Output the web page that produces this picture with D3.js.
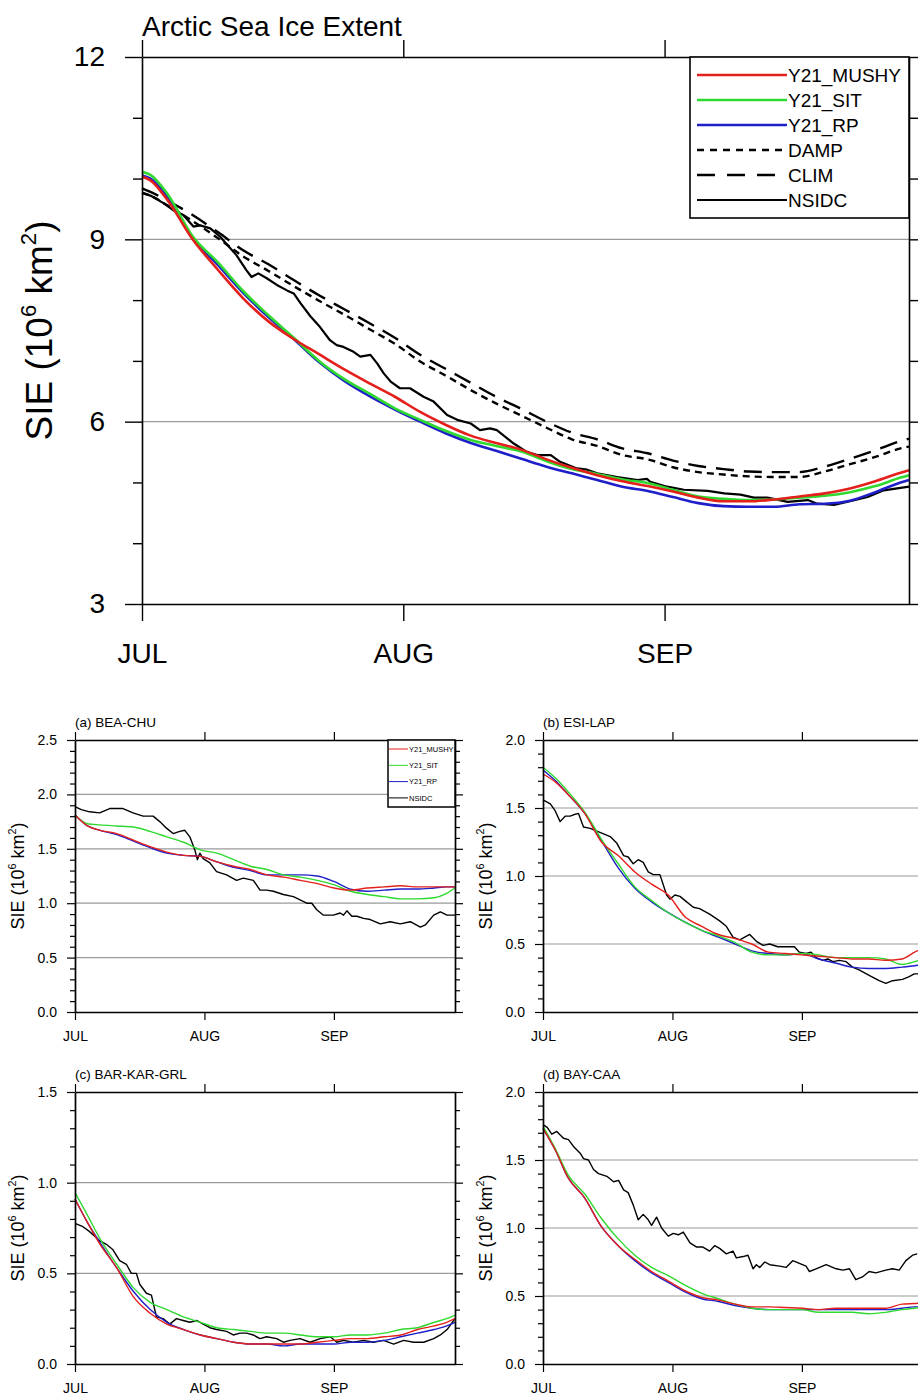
<!DOCTYPE html>
<html>
<head>
<meta charset="utf-8">
<script src="https://cdn.jsdelivr.net/npm/d3@7"></script>
<style>
  body { margin: 0; background: #fff; }
  svg { display: block; font-family: "Liberation Sans", Arial, Helvetica, sans-serif; }
</style>
</head>
<body>
<svg id="chart" width="918" height="1400"></svg>
<script>
// month ticks (day of season, Jul 1 = 0)
const months = ["JUL", "AUG", "SEP"];
const monthDays = [0, 31, 62];

// main panel: Arctic total
const mainDays = [0,1,3,6,9,12,15,18,21,24,27,30,33,36,39,42,45,48,51,54,57,60,63,66,69,72,75,78,81,84,87,90,91];
const mainMushy = [10.03,9.97,9.65,9.0,8.50,8.03,7.65,7.36,7.11,6.86,6.63,6.41,6.16,5.95,5.77,5.65,5.54,5.38,5.24,5.12,5.02,4.94,4.85,4.75,4.69,4.69,4.72,4.77,4.82,4.90,5.02,5.16,5.20];
const mainSit = [10.11,10.06,9.75,9.05,8.62,8.15,7.75,7.38,7.00,6.70,6.46,6.22,6.03,5.85,5.70,5.60,5.51,5.35,5.22,5.14,5.05,4.99,4.88,4.77,4.73,4.71,4.72,4.75,4.78,4.84,4.94,5.08,5.12];
const mainRp = [10.05,10.0,9.70,9.02,8.58,8.12,7.72,7.36,6.98,6.67,6.42,6.20,6.00,5.81,5.65,5.52,5.39,5.26,5.15,5.04,4.93,4.86,4.76,4.66,4.61,4.60,4.60,4.64,4.65,4.70,4.84,5.00,5.04];
const mainDamp = [9.77,9.72,9.56,9.30,9.02,8.72,8.48,8.23,7.99,7.76,7.52,7.28,6.99,6.76,6.52,6.30,6.10,5.90,5.71,5.60,5.45,5.38,5.25,5.17,5.13,5.10,5.09,5.09,5.18,5.30,5.42,5.56,5.59];
const mainClim = [9.84,9.78,9.64,9.40,9.12,8.82,8.59,8.33,8.08,7.85,7.62,7.38,7.10,6.87,6.64,6.41,6.21,6.00,5.82,5.71,5.56,5.48,5.36,5.27,5.22,5.18,5.17,5.17,5.26,5.39,5.53,5.68,5.72];
const mainObsDays = [0,1,2.5,3.7,4.9,6.1,6.9,8.1,9.3,10.5,11.2,12.4,13,13.8,14.8,16,17.2,18,18.8,20,21.1,22.3,23.1,23.9,25.1,25.9,27.1,27.9,28.7,29.5,30.6,31.8,33.4,34.6,36.2,37.4,39,40.1,41.3,42.1,44.1,45.7,46.9,48.5,49.6,51.6,52.8,54,56.4,58.8,59.9,60.3,62.3,64.3,67.1,69.1,71,72.6,74.2,76.6,79,80.1,82.1,84.5,86.1,88,90,91];
const mainObs = [9.76,9.72,9.6,9.48,9.40,9.21,9.23,9.18,9.04,8.85,8.74,8.49,8.38,8.44,8.36,8.25,8.16,8.11,7.95,7.73,7.56,7.34,7.26,7.23,7.15,7.07,7.10,6.96,6.79,6.66,6.55,6.55,6.41,6.33,6.11,6.03,5.97,5.86,5.89,5.86,5.64,5.50,5.45,5.45,5.34,5.23,5.21,5.15,5.09,5.04,5.06,5.01,4.93,4.88,4.86,4.82,4.80,4.75,4.75,4.68,4.71,4.65,4.63,4.71,4.76,4.87,4.91,4.93];

// regional panels share one day grid for the model runs
const panelDays = [0,3,6,10,14,18,22,26,30,34,38,42,46,50,54,58,62,66,70,74,78,82,86,89,91];

// (a) BEA-CHU
const beaMushy = [1.81,1.71,1.67,1.64,1.58,1.52,1.47,1.44,1.43,1.38,1.34,1.31,1.26,1.24,1.21,1.18,1.14,1.12,1.14,1.15,1.16,1.15,1.15,1.15,1.15];
const beaSit = [1.81,1.73,1.72,1.71,1.70,1.66,1.61,1.56,1.49,1.46,1.40,1.34,1.31,1.26,1.24,1.21,1.17,1.11,1.08,1.06,1.04,1.04,1.05,1.09,1.14];
const beaRp = [1.81,1.71,1.67,1.63,1.57,1.51,1.46,1.44,1.43,1.38,1.33,1.30,1.26,1.26,1.26,1.25,1.20,1.13,1.11,1.12,1.13,1.13,1.14,1.15,1.15];
const beaObsDays = [0,1.5,3.5,5.9,8.3,11.5,13.9,16.3,18.7,20.3,21.9,23.5,25.1,26.3,27.5,28.7,29.3,29.9,30.7,32.3,33.9,36.3,38.7,40.3,42.7,44.3,45.9,47.5,49.9,52.3,53.9,55.5,56.7,57.9,59.5,61.9,63.5,64.3,65.1,66.3,67.5,69.1,70.7,73.1,75.5,77.9,80.3,82.7,83.9,85.9,87.5,89.1,91];
const beaObs = [1.887,1.86,1.84,1.83,1.87,1.87,1.83,1.80,1.80,1.75,1.69,1.64,1.66,1.67,1.61,1.49,1.40,1.46,1.41,1.37,1.29,1.26,1.21,1.23,1.21,1.12,1.12,1.11,1.08,1.06,1.03,1.00,1.00,0.94,0.89,0.89,0.91,0.89,0.93,0.88,0.88,0.86,0.85,0.81,0.83,0.81,0.83,0.78,0.80,0.89,0.92,0.89,0.89];

// (b) ESI-LAP
const esiMushy = [1.75,1.69,1.60,1.46,1.25,1.15,1.03,0.94,0.86,0.70,0.63,0.57,0.54,0.50,0.44,0.43,0.42,0.41,0.40,0.39,0.39,0.38,0.39,0.44,0.47];
const esiSit = [1.80,1.72,1.62,1.47,1.27,1.09,0.92,0.82,0.73,0.66,0.60,0.56,0.51,0.44,0.42,0.42,0.43,0.42,0.40,0.40,0.40,0.39,0.35,0.37,0.39];
const esiRp = [1.78,1.70,1.60,1.46,1.26,1.06,0.91,0.81,0.73,0.66,0.60,0.55,0.50,0.45,0.43,0.42,0.43,0.39,0.36,0.33,0.32,0.32,0.33,0.34,0.35];
const esiObsDays = [0,1.75,2.9,4.1,5.3,6.5,7.3,8.5,9.7,11.3,12.9,14.5,16.1,17.7,19.3,20.4,21.6,22.8,24.0,25.2,26.4,28.0,29.6,30.4,31.6,32.8,34.4,36.0,37.5,39.9,42.3,43.9,45.5,47.1,49.5,51.1,52.7,54.3,56.2,58.2,60.2,61.4,63.0,64.2,65.4,67.0,68.2,69.4,71.0,72.6,74.1,75.7,78.1,80.5,82.1,83.7,86.1,87.7,88.9,91];
const esiObs = [1.56,1.53,1.48,1.40,1.44,1.44,1.45,1.46,1.36,1.35,1.33,1.31,1.29,1.24,1.15,1.14,1.09,1.12,1.10,1.03,1.01,1.01,0.86,0.83,0.86,0.85,0.81,0.77,0.76,0.72,0.67,0.63,0.55,0.53,0.57,0.52,0.49,0.50,0.48,0.48,0.48,0.44,0.43,0.44,0.40,0.38,0.39,0.37,0.38,0.37,0.33,0.31,0.27,0.23,0.21,0.23,0.24,0.26,0.28,0.28];

// (c) BAR-KAR-GRL
const barMushy = [0.91,0.78,0.66,0.53,0.37,0.28,0.22,0.19,0.16,0.14,0.12,0.11,0.11,0.11,0.11,0.12,0.13,0.14,0.14,0.15,0.16,0.19,0.21,0.23,0.25];
const barSit = [0.945,0.82,0.69,0.55,0.42,0.34,0.30,0.26,0.23,0.20,0.19,0.18,0.17,0.17,0.16,0.15,0.15,0.16,0.16,0.17,0.19,0.20,0.23,0.25,0.27];
const barRp = [0.91,0.78,0.67,0.53,0.40,0.30,0.23,0.19,0.16,0.14,0.12,0.11,0.11,0.10,0.11,0.11,0.11,0.12,0.12,0.13,0.15,0.17,0.19,0.21,0.23];
const barObsDays = [0,1.9,3.5,5.9,7.5,9.1,10.7,12.3,13.5,14.7,15.5,17.1,18.3,19.5,21.1,22.7,24.3,25.9,27.5,29.1,30.7,32.3,33.9,36.3,37.9,39.5,41.1,42.7,44.3,45.9,48.3,49.9,51.5,53.9,56.3,58.7,61.1,62.7,64.3,66.7,69.1,71.5,73.9,76.3,78.7,81.1,83.5,85.9,87.5,89.1,91];
const barObs = [0.776,0.757,0.73,0.68,0.66,0.63,0.57,0.55,0.50,0.50,0.44,0.39,0.38,0.26,0.25,0.22,0.25,0.24,0.23,0.24,0.22,0.20,0.19,0.18,0.16,0.17,0.17,0.16,0.14,0.15,0.14,0.12,0.13,0.14,0.12,0.14,0.15,0.12,0.13,0.12,0.13,0.12,0.13,0.11,0.13,0.12,0.12,0.14,0.16,0.19,0.25];

// (d) BAY-CAA
const bayMushy = [1.73,1.57,1.37,1.22,1.01,0.87,0.77,0.68,0.61,0.54,0.49,0.47,0.44,0.42,0.42,0.415,0.41,0.40,0.41,0.41,0.41,0.41,0.44,0.445,0.45];
const baySit = [1.75,1.58,1.39,1.25,1.07,0.92,0.80,0.71,0.65,0.58,0.52,0.48,0.44,0.41,0.40,0.40,0.40,0.38,0.38,0.38,0.37,0.38,0.40,0.41,0.42];
const bayRp = [1.73,1.57,1.37,1.22,1.01,0.87,0.76,0.67,0.60,0.53,0.48,0.46,0.43,0.41,0.40,0.40,0.40,0.40,0.40,0.40,0.40,0.40,0.41,0.42,0.42];
const bayObsDays = [0,1.0,2.1,3.3,4.9,6.1,7.3,8.9,9.7,10.9,12.1,13.3,15.3,16.9,18.1,19.3,20.4,21.6,22.8,24.0,25.2,26.0,27.2,28.4,30.0,31.2,32.4,33.6,35.2,36.8,38.3,39.9,41.1,42.3,43.9,45.5,46.3,47.9,49.1,50.3,51.1,51.9,53.1,54.3,56.7,58.2,59.8,61.4,63.0,63.8,65.4,67.8,70.2,71.8,73.4,74.9,76.5,78.1,79.7,82.1,83.7,85.3,86.9,88.5,89.6];
const bayObs = [1.76,1.74,1.69,1.71,1.66,1.65,1.60,1.55,1.51,1.50,1.43,1.40,1.38,1.34,1.35,1.28,1.26,1.17,1.06,1.10,1.06,1.02,1.08,1.00,0.94,0.96,0.95,0.97,0.89,0.86,0.86,0.83,0.87,0.85,0.81,0.83,0.78,0.79,0.80,0.70,0.73,0.71,0.75,0.73,0.72,0.71,0.76,0.74,0.72,0.68,0.70,0.73,0.70,0.69,0.70,0.62,0.64,0.68,0.67,0.69,0.70,0.69,0.76,0.80,0.81];

const RED = "#e3201c", GREEN = "#2fd92f", BLUE = "#1f1fc9";

const svg = d3.select("#chart");
svg.append("rect").attr("width", 918).attr("height", 1400).attr("fill", "#fff");

// rotated y label with superscripts
function yLabel(x, y, size) {
    let t = svg.append("text")
        .attr("transform", "translate(" + x + "," + y + ") rotate(-90)")
        .attr("text-anchor", "middle")
        .attr("font-size", size + "px");
    t.append("tspan").text("SIE (10");
    t.append("tspan").attr("font-size", (size * 0.6) + "px").attr("dy", -size * 0.42).text("6");
    t.append("tspan").attr("dy", size * 0.42).text(" km");
    t.append("tspan").attr("font-size", (size * 0.6) + "px").attr("dy", -size * 0.42).text("2");
    t.append("tspan").attr("dy", size * 0.42).text(")");
}

function drawPlot(o) {
    let g = svg.append("g");
    let xScale = d3.scaleLinear().domain([0, 91]).range([o.left, o.left + o.width]);
    let yScale = d3.scaleLinear().domain([o.yMin, o.yMax]).range([o.top + o.height, o.top]);

    // grid lines
    g.selectAll("line.grid")
        .data(o.grid)
        .enter()
        .append("line")
        .attr("class", "grid")
        .attr("x1", o.left).attr("x2", o.left + o.width)
        .attr("y1", d => yScale(d)).attr("y2", d => yScale(d))
        .attr("stroke", "#9a9a9a")
        .attr("stroke-width", o.gridWidth);

    // series
    o.series.forEach(s => {
        let line = d3.line()
            .x(d => xScale(d[0]))
            .y(d => yScale(d[1]))
            .curve(s.smooth ? d3.curveMonotoneX : d3.curveLinear);
        g.append("path")
            .datum(d3.zip(s.days, s.vals))
            .attr("d", line)
            .attr("fill", "none")
            .attr("stroke", s.color)
            .attr("stroke-width", s.width)
            .attr("stroke-dasharray", s.dash || null)
            .attr("stroke-linejoin", "round");
    });

    let majorY = d3.range(o.yMin, o.yMax + o.yStep / 2, o.yStep);
    let minorY = o.minorY;

    let styleAxis = sel => {
        sel.selectAll("path.domain").attr("stroke", "#000").attr("stroke-width", o.axisWidth);
        sel.selectAll(".tick line").attr("stroke", "#000").attr("stroke-width", o.tickWidth);
        sel.selectAll(".tick text").attr("fill", "#000");
        sel.attr("font-family", null).attr("font-size", o.tickFont + "px");
    };

    // left axis
    g.append("g")
        .attr("transform", "translate(" + o.left + ",0)")
        .call(d3.axisLeft(yScale).tickValues(minorY).tickSize(o.minorLen).tickFormat(""))
        .call(a => a.select(".domain").remove())
        .call(styleAxis);
    g.append("g")
        .attr("transform", "translate(" + o.left + ",0)")
        .call(d3.axisLeft(yScale).tickValues(majorY).tickSize(o.majorLen).tickSizeOuter(0)
            .tickPadding(o.yPad).tickFormat(d3.format(o.fmt)))
        .call(styleAxis);

    // right axis
    g.append("g")
        .attr("transform", "translate(" + (o.left + o.width) + ",0)")
        .call(d3.axisRight(yScale).tickValues(minorY).tickSize(o.minorLen).tickFormat(""))
        .call(a => a.select(".domain").remove())
        .call(styleAxis);
    g.append("g")
        .attr("transform", "translate(" + (o.left + o.width) + ",0)")
        .call(d3.axisRight(yScale).tickValues(majorY).tickSize(o.majorLen).tickSizeOuter(0).tickFormat(""))
        .call(styleAxis);

    // bottom axis
    g.append("g")
        .attr("transform", "translate(0," + (o.top + o.height) + ")")
        .call(d3.axisBottom(xScale).tickValues(monthDays).tickSize(o.majorLen).tickSizeOuter(0)
            .tickPadding(o.xPad).tickFormat((d, i) => months[i]))
        .call(styleAxis);

    // top axis
    g.append("g")
        .attr("transform", "translate(0," + o.top + ")")
        .call(d3.axisTop(xScale).tickValues(monthDays).tickSize(o.majorLen).tickSizeOuter(0).tickFormat(""))
        .call(styleAxis);

    // title
    svg.append("text")
        .attr("x", o.left)
        .attr("y", o.titleY)
        .attr("font-size", o.titleFont + "px")
        .text(o.title);

    yLabel(o.labelX, o.top + o.height / 2, o.labelFont);

    // legend
    if (o.legend) {
        let L = o.legend;
        let lg = svg.append("g");
        lg.append("rect")
            .attr("x", L.x).attr("y", L.y)
            .attr("width", L.w).attr("height", L.h)
            .attr("fill", "#fff")
            .attr("stroke", "#000")
            .attr("stroke-width", L.border);
        L.items.forEach((it, i) => {
            let yy = L.y + L.first + i * L.step;
            lg.append("line")
                .attr("x1", L.x + L.lineStart).attr("x2", L.x + L.lineEnd)
                .attr("y1", yy).attr("y2", yy)
                .attr("stroke", it.color)
                .attr("stroke-width", it.width)
                .attr("stroke-dasharray", it.dash || null);
            lg.append("text")
                .attr("x", L.x + L.lineEnd + 1)
                .attr("y", yy)
                .attr("dy", "0.36em")
                .attr("font-size", L.font + "px")
                .text(it.name);
        });
    }
}

// ---- main Arctic panel
let mainSeries = [
    { name: "NSIDC", days: mainObsDays, vals: mainObs, color: "#000", width: 2.2 },
    { name: "DAMP", days: mainDays, vals: mainDamp, color: "#000", width: 2.4, dash: "7,5", smooth: true },
    { name: "CLIM", days: mainDays, vals: mainClim, color: "#000", width: 2.4, dash: "18,10", smooth: true },
    { name: "Y21_RP", days: mainDays, vals: mainRp, color: BLUE, width: 2.6, smooth: true },
    { name: "Y21_SIT", days: mainDays, vals: mainSit, color: GREEN, width: 2.6, smooth: true },
    { name: "Y21_MUSHY", days: mainDays, vals: mainMushy, color: RED, width: 2.6, smooth: true }
];

drawPlot({
    left: 142, top: 57, width: 767, height: 547,
    yMin: 3, yMax: 12, yStep: 3, minorY: [4, 5, 7, 8, 10, 11], grid: [6, 9],
    fmt: "d", majorLen: 17, minorLen: 9, yPad: 20, xPad: 22,
    tickFont: 28, axisWidth: 1.6, tickWidth: 1.4, gridWidth: 1.4,
    title: "Arctic Sea Ice Extent", titleY: 36, titleFont: 28,
    labelX: 52, labelFont: 37,
    series: mainSeries,
    legend: {
        x: 690, y: 57, w: 219, h: 161, border: 1.6, first: 18, step: 25,
        lineStart: 7, lineEnd: 97, font: 19,
        items: [
            { name: "Y21_MUSHY", color: RED, width: 2.6 },
            { name: "Y21_SIT", color: GREEN, width: 2.6 },
            { name: "Y21_RP", color: BLUE, width: 2.6 },
            { name: "DAMP", color: "#000", width: 2.4, dash: "7,6" },
            { name: "CLIM", color: "#000", width: 2.4, dash: "18,12" },
            { name: "NSIDC", color: "#000", width: 2.2 }
        ]
    }
});

// ---- regional panels
function regional(title, left, top, yMax, mushy, sit, rp, obsDays, obs, legend) {
    let minor = d3.range(0, yMax + 0.001, 0.1).map(v => +v.toFixed(1)).filter(v => Math.round(v * 10) % 5 !== 0);
    let grid = d3.range(0.5, yMax - 0.001, 0.5);
    drawPlot({
        left: left, top: top, width: 380, height: 272,
        yMin: 0, yMax: yMax, yStep: 0.5, minorY: minor, grid: grid,
        fmt: ".1f", majorLen: 8, minorLen: 5, yPad: 10, xPad: 11,
        tickFont: 14, axisWidth: 1.7, tickWidth: 1.2, gridWidth: 1.2,
        title: title, titleY: top - 13, titleFont: 13.5,
        labelX: left - 51, labelFont: 18,
        series: [
            { name: "NSIDC", days: obsDays, vals: obs, color: "#000", width: 1.4 },
            { name: "Y21_RP", days: panelDays, vals: rp, color: BLUE, width: 1.4, smooth: true },
            { name: "Y21_SIT", days: panelDays, vals: sit, color: GREEN, width: 1.4, smooth: true },
            { name: "Y21_MUSHY", days: panelDays, vals: mushy, color: RED, width: 1.4, smooth: true }
        ],
        legend: legend
    });
}

regional("(a) BEA-CHU", 75, 740, 2.5, beaMushy, beaSit, beaRp, beaObsDays, beaObs, {
    x: 388, y: 740, w: 67, h: 67, border: 1.5, first: 9, step: 16.3,
    lineStart: 1, lineEnd: 20, font: 7.5,
    items: [
        { name: "Y21_MUSHY", color: RED, width: 1 },
        { name: "Y21_SIT", color: GREEN, width: 1 },
        { name: "Y21_RP", color: BLUE, width: 1 },
        { name: "NSIDC", color: "#000", width: 1 }
    ]
});
regional("(b) ESI-LAP", 543, 740, 2.0, esiMushy, esiSit, esiRp, esiObsDays, esiObs, null);
regional("(c) BAR-KAR-GRL", 75, 1092, 1.5, barMushy, barSit, barRp, barObsDays, barObs, null);
regional("(d) BAY-CAA", 543, 1092, 2.0, bayMushy, baySit, bayRp, bayObsDays, bayObs, null);
</script>
</body>
</html>
